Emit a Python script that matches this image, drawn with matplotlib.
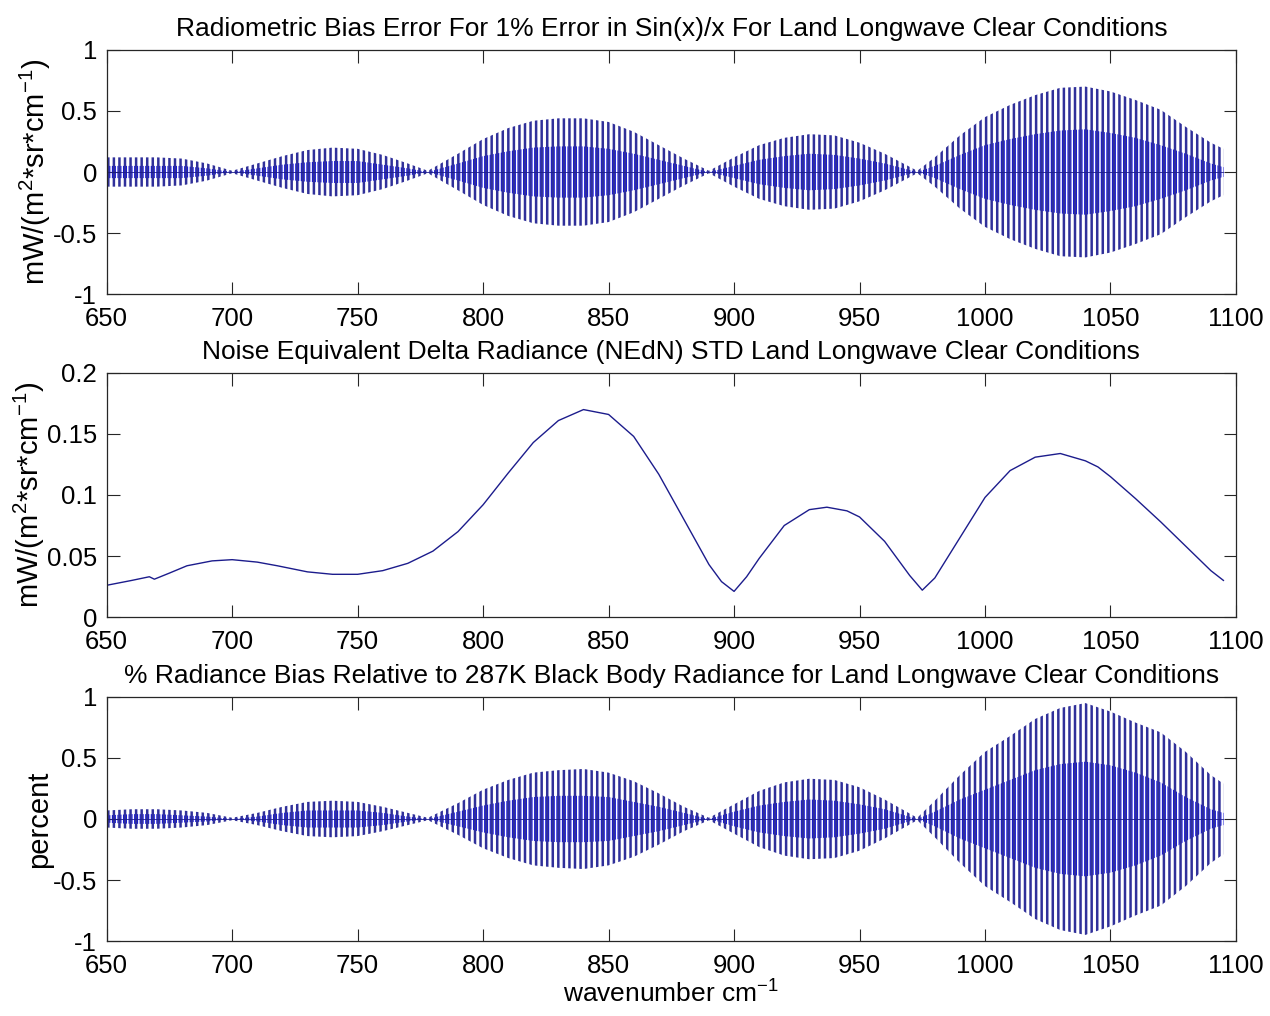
import numpy as np
import matplotlib
matplotlib.use("Agg")
import matplotlib.pyplot as plt
from matplotlib.ticker import FormatStrFormatter

plt.rcParams['font.family'] = ['Liberation Sans', 'DejaVu Sans']
plt.rcParams['mathtext.fontset'] = 'custom'
plt.rcParams['mathtext.rm'] = 'Liberation Sans'
plt.rcParams['mathtext.default'] = 'regular'
plt.rcParams['axes.unicode_minus'] = False

# envelope of the sin(x)/x bias oscillation
wn_env = [650, 660, 670, 680, 690, 700, 710, 720, 730, 740, 750, 760, 770, 778,
          790, 800, 810, 820, 830, 840, 850, 860, 870, 880, 890, 900, 910, 920,
          930, 940, 950, 960, 973, 980, 990, 1000, 1010, 1020, 1030, 1040, 1050,
          1060, 1070, 1080, 1090, 1095]
top_outer = [0.12, 0.12, 0.12, 0.11, 0.07, 0.01, 0.07, 0.13, 0.18, 0.20, 0.19, 0.14, 0.07, 0.01,
             0.15, 0.27, 0.36, 0.42, 0.44, 0.44, 0.41, 0.33, 0.22, 0.11, 0.01, 0.12, 0.22, 0.28,
             0.31, 0.30, 0.24, 0.15, 0.01, 0.12, 0.30, 0.45, 0.55, 0.63, 0.69, 0.70, 0.66,
             0.59, 0.51, 0.37, 0.24, 0.19]
top_inner = [0.05, 0.05, 0.05, 0.05, 0.03, 0.0, 0.03, 0.06, 0.08, 0.09, 0.09, 0.06, 0.03, 0.0,
             0.07, 0.13, 0.17, 0.20, 0.21, 0.21, 0.19, 0.15, 0.10, 0.05, 0.0, 0.05, 0.10, 0.13,
             0.15, 0.14, 0.11, 0.07, 0.0, 0.05, 0.14, 0.22, 0.27, 0.31, 0.34, 0.35, 0.32,
             0.28, 0.22, 0.15, 0.07, 0.04]
bot_outer = [0.07, 0.08, 0.08, 0.07, 0.05, 0.01, 0.05, 0.10, 0.14, 0.15, 0.14, 0.10, 0.05, 0.01,
             0.13, 0.24, 0.32, 0.38, 0.40, 0.41, 0.38, 0.31, 0.21, 0.10, 0.01, 0.12, 0.23, 0.30,
             0.33, 0.32, 0.26, 0.16, 0.01, 0.15, 0.36, 0.55, 0.68, 0.82, 0.91, 0.95, 0.88,
             0.79, 0.71, 0.55, 0.36, 0.29]
bot_inner = [0.03, 0.04, 0.04, 0.03, 0.02, 0.0, 0.02, 0.05, 0.07, 0.07, 0.07, 0.05, 0.02, 0.0,
             0.06, 0.11, 0.15, 0.18, 0.19, 0.19, 0.18, 0.14, 0.10, 0.05, 0.0, 0.06, 0.11, 0.14,
             0.16, 0.15, 0.12, 0.08, 0.0, 0.06, 0.16, 0.24, 0.32, 0.40, 0.45, 0.47, 0.44,
             0.38, 0.30, 0.18, 0.08, 0.05]

# NEdN curve
wn_mid = [650, 660, 667, 669, 675, 682, 692, 700, 710, 718, 730, 740, 750, 760, 770, 780,
          790, 800, 810, 820, 830, 840, 850, 860, 870, 880, 890, 895, 900, 905, 910,
          920, 930, 937, 945, 950, 960, 970, 975, 980, 990, 1000, 1010, 1020, 1030,
          1040, 1045, 1050, 1060, 1070, 1080, 1090, 1095]
nedn = [0.026, 0.030, 0.033, 0.031, 0.036, 0.042, 0.046, 0.047, 0.045, 0.042, 0.037, 0.035,
        0.035, 0.038, 0.044, 0.054, 0.070, 0.092, 0.118, 0.143, 0.161, 0.170, 0.166, 0.148,
        0.117, 0.080, 0.043, 0.029, 0.021, 0.033, 0.048, 0.075, 0.088, 0.090, 0.087, 0.082,
        0.062, 0.034, 0.022, 0.032, 0.065, 0.098, 0.120, 0.131, 0.134, 0.128, 0.123, 0.115,
        0.097, 0.078, 0.058, 0.038, 0.030]

titles = ['Radiometric Bias Error For 1% Error in Sin(x)/x For Land Longwave Clear Conditions',
          'Noise Equivalent Delta Radiance (NEdN) STD Land Longwave Clear Conditions',
          '% Radiance Bias Relative to 287K Black Body Radiance for Land Longwave Clear Conditions']
ylabels = ['mW/(m$^2$*sr*cm$^{-1}$)', 'mW/(m$^2$*sr*cm$^{-1}$)', 'percent']

spike_col = '#30309a'
inner_col = '#1010e0'
line_col = '#1c1c8c'

fig = plt.figure(figsize=(12.7, 10.16), dpi=100)
boxes = [[0.084, 0.7106, 0.8892, 0.2402],
         [0.084, 0.3927, 0.8892, 0.2402],
         [0.084, 0.0738, 0.8892, 0.2402]]
axs = [fig.add_axes(b) for b in boxes]

wn = np.array(wn_env)
for ax, outer, inner in [(axs[0], top_outer, top_inner), (axs[2], bot_outer, bot_inner)]:
    outer = np.array(outer)
    inner = np.array(inner)
    plt.rcParams['hatch.linewidth'] = 0.9
    ax.fill_between(wn, -inner, inner, facecolor='none', edgecolor=inner_col,
                    hatch='||||||', linewidth=0)
    plt.rcParams['hatch.linewidth'] = 1.8
    ax.fill_between(wn, -outer, outer, facecolor='none', edgecolor=spike_col,
                    hatch='|||', linewidth=0)
    ax.plot(wn, np.zeros(len(wn)), color=line_col, lw=0.6)
    ax.set_ylim(-1, 1)
    ax.set_yticks([-1, -0.5, 0, 0.5, 1])

axs[1].plot(wn_mid, nedn, color=line_col, lw=1.0)
axs[1].set_ylim(0, 0.2)
axs[1].set_yticks([0, 0.05, 0.1, 0.15, 0.2])

for ax, t, yl in zip(axs, titles, ylabels):
    ax.set_xlim(650, 1100)
    ax.set_xticks(np.arange(650, 1101, 50))
    ax.yaxis.set_major_formatter(FormatStrFormatter('%g'))
    ax.tick_params(direction='in', length=9, width=0.8, top=True, right=True,
                   labelsize=18.5, colors='#262626', labelcolor='black')
    ax.tick_params(axis='x', pad=9)
    ax.tick_params(axis='y', pad=7)
    for s in ax.spines.values():
        s.set_color('#262626')
        s.set_linewidth(0.9)
    ax.set_title(t, fontsize=19, pad=10)
    ax.set_ylabel(yl, fontsize=21, labelpad=0)

axs[2].set_xlabel('wavenumber cm$^{-1}$', fontsize=19, labelpad=2)

fig.savefig('out.png', dpi=100)
